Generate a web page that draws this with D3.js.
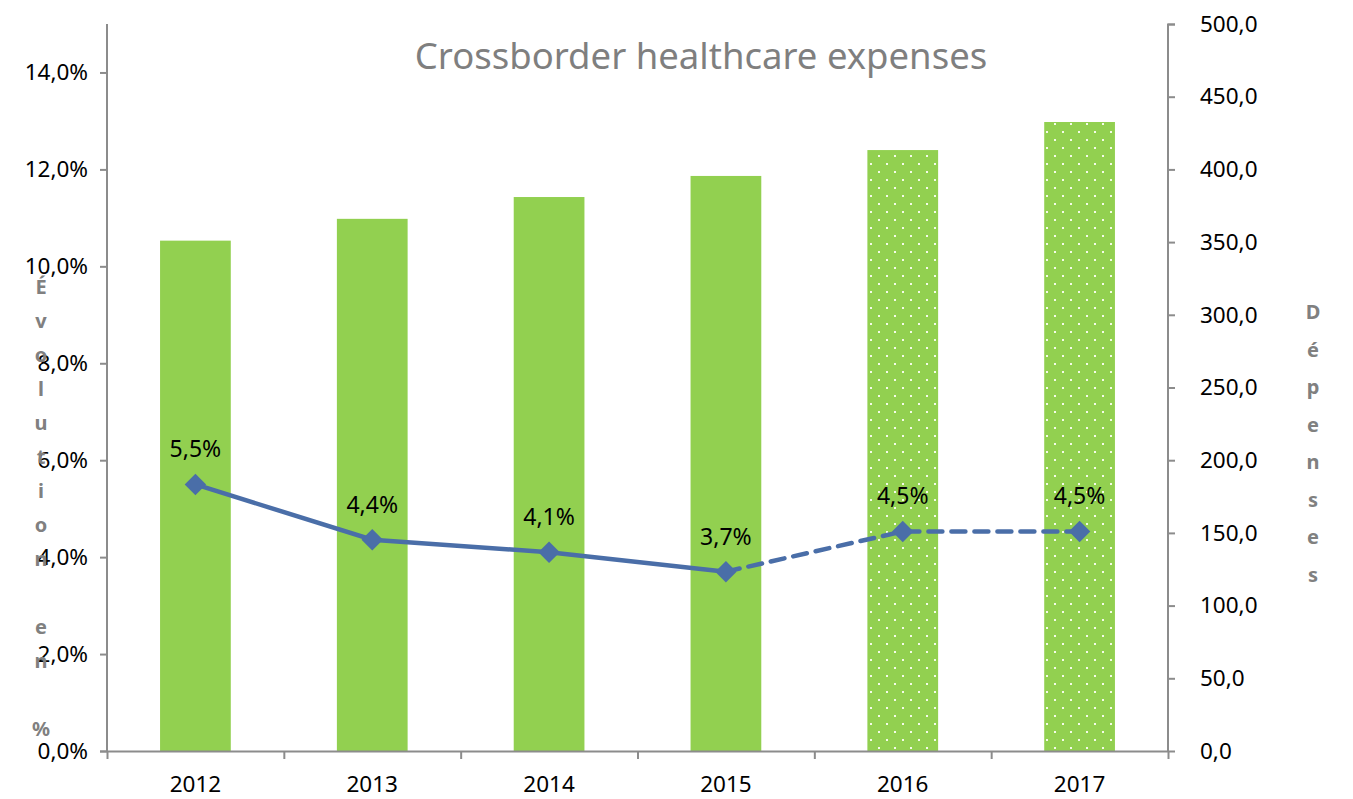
<!DOCTYPE html>
<html lang="en">
<head>
<meta charset="utf-8" />
<script src="https://d3js.org/d3.v7.min.js"></script>
<style>
  body { margin: 0; background: #fff; }
  text { font-family: "Noto Sans", "Open Sans", sans-serif; }
</style>
</head>
<body>
<div id="chart"></div>
<script>
// data
var years = ["2012", "2013", "2014", "2015", "2016", "2017"];
var expenses = [351, 366, 381, 395.5, 413.3, 432.6];
var growth = [5.5, 4.36, 4.1, 3.7, 4.53, 4.53];
var growthLabels = ["5,5%", "4,4%", "4,1%", "3,7%", "4,5%", "4,5%"];
var projected = [false, false, false, false, true, true];
var leftTicks = [0, 2, 4, 6, 8, 10, 12, 14];
var rightTicks = [0, 50, 100, 150, 200, 250, 300, 350, 400, 450, 500];

var W = 1353, H = 799;
var margin = { top: 24, left: 107, right: 185, bottom: 48 };
var width = W - margin.left - margin.right,
    height = H - margin.top - margin.bottom;

var svg = d3.select("#chart").append("svg")
  .attr("width", W).attr("height", H);

// dotted pattern for projected bars
var defs = svg.append("defs");
var pat = defs.append("pattern")
  .attr("id", "dots")
  .attr("patternUnits", "userSpaceOnUse")
  .attr("width", 16).attr("height", 16);
pat.append("rect").attr("width", 16).attr("height", 16).attr("fill", "#92d050");
pat.append("rect").attr("x", 3).attr("y", 3).attr("width", 2).attr("height", 2).attr("fill", "#f4fbe9");
pat.append("rect").attr("x", 11).attr("y", 11).attr("width", 2).attr("height", 2).attr("fill", "#f4fbe9");

var g = svg.append("g").attr("transform", "translate(" + margin.left + "," + margin.top + ")");

var x = d3.scaleBand().domain(years).range([0, width]).paddingInner(0.6).paddingOuter(0.3);
var xc = function (d) { return x(d) + x.bandwidth() / 2; };
var yL = d3.scaleLinear().domain([0, 15]).range([height, 0]);
var yR = d3.scaleLinear().domain([0, 500]).range([height, 0]);

// bars
g.selectAll(".bar").data(years).enter().append("rect")
  .attr("x", function (d) { return x(d); })
  .attr("width", x.bandwidth())
  .attr("y", function (d, i) { return yR(expenses[i]); })
  .attr("height", function (d, i) { return height - yR(expenses[i]); })
  .attr("fill", function (d, i) { return projected[i] ? "url(#dots)" : "#92d050"; });

// axes
var axisColor = "#8c8c8c";
var leftAxis = g.append("g")
  .call(d3.axisLeft(yL).tickValues(leftTicks).tickSize(7).tickPadding(12)
    .tickFormat(function (d) { return d.toFixed(1).replace(".", ",") + "%"; }));
var rightAxis = g.append("g").attr("transform", "translate(" + width + ",0)")
  .call(d3.axisRight(yR).tickValues(rightTicks).tickSize(7).tickPadding(25)
    .tickFormat(function (d) { return d.toFixed(1).replace(".", ","); }));

var xb = d3.scaleLinear().domain([0, years.length]).range([0, width]);
var bottomAxis = g.append("g").attr("transform", "translate(0," + height + ")")
  .call(d3.axisBottom(xb).tickValues(d3.range(years.length + 1)).tickSize(8).tickFormat(""));
bottomAxis.select(".domain").attr("d", "M-7,0.5H" + width);

g.append("g").attr("transform", "translate(0," + height + ")")
  .selectAll("text").data(years).enter().append("text")
  .attr("x", xc).attr("y", 41)
  .attr("text-anchor", "middle")
  .style("font-size", "22.5px").attr("fill", "#000")
  .text(function (d) { return d; });

[leftAxis, rightAxis, bottomAxis].forEach(function (a) {
  a.selectAll("path, line").attr("stroke", axisColor).attr("stroke-width", 2);
  a.selectAll("text").attr("fill", "#000").style("font-size", "22.5px")
    .style("font-family", "'Noto Sans', sans-serif");
});
leftAxis.select(".domain").attr("d", "M0,0V" + height);
rightAxis.select(".domain").attr("d", "M7,0.5H0V" + height);

// line
var lineColor = "#4a6ea8";
var line = d3.line()
  .x(function (d) { return xc(d.year); })
  .y(function (d) { return yL(d.v); });
var pts = years.map(function (y, i) { return { year: y, v: growth[i], p: projected[i] }; });
var solid = pts.filter(function (d, i) { return i <= 3; });
var dashed = pts.filter(function (d, i) { return i >= 3; });

g.append("path").datum(solid).attr("d", line)
  .attr("fill", "none").attr("stroke", lineColor).attr("stroke-width", 4.5);
g.append("path").datum(dashed).attr("d", line)
  .attr("fill", "none").attr("stroke", lineColor).attr("stroke-width", 4.5)
  .attr("stroke-dasharray", "14,9").attr("stroke-linecap", "round");

g.selectAll(".mk").data(pts).enter().append("path")
  .attr("transform", function (d) { return "translate(" + xc(d.year) + "," + yL(d.v) + ") rotate(45)"; })
  .attr("d", d3.symbol().type(d3.symbolSquare).size(230))
  .attr("fill", lineColor);

g.selectAll(".lbl").data(pts).enter().append("text")
  .attr("x", function (d) { return xc(d.year); })
  .attr("y", function (d) { return yL(d.v) - 27; })
  .attr("text-anchor", "middle")
  .style("font-size", "23px").attr("fill", "#000")
  .text(function (d, i) { return growthLabels[i]; });

// title
svg.append("text")
  .attr("x", 701).attr("y", 69)
  .attr("text-anchor", "middle")
  .style("font-size", "36.5px").attr("fill", "#7f7f7f")
  .text("Crossborder healthcare expenses");

// stacked axis titles
var leftTitle = ["É", "v", "o", "l", "u", "t", "i", "o", "n", "", "e", "n", "", "%"];
svg.append("g").selectAll("text").data(leftTitle).enter().append("text")
  .attr("x", 41).attr("y", function (d, i) { return 294 + i * 34; })
  .attr("text-anchor", "middle")
  .style("font-size", "20px").style("font-weight", "bold").attr("fill", "#808080")
  .text(function (d) { return d; });

var rightTitle = ["D", "é", "p", "e", "n", "s", "e", "s"];
svg.append("g").selectAll("text").data(rightTitle).enter().append("text")
  .attr("x", 1313).attr("y", function (d, i) { return 319 + i * 37.5; })
  .attr("text-anchor", "middle")
  .style("font-size", "20px").style("font-weight", "bold").attr("fill", "#808080")
  .text(function (d) { return d; });
</script>
</body>
</html>
